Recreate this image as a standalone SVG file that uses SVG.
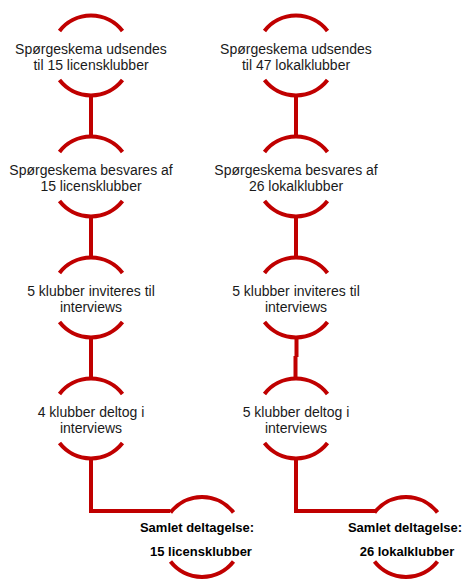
<svg xmlns="http://www.w3.org/2000/svg" width="468" height="580" viewBox="0 0 468 580">
<defs>
<style>
.arc{fill:none;stroke:#C00000;stroke-width:4}
.con{fill:none;stroke:#C00000;stroke-width:4}
.t{font-family:"Liberation Sans",Arial,sans-serif;font-size:14px;fill:#1a1a1a;text-anchor:middle}
.b{font-family:"Liberation Sans",Arial,sans-serif;font-size:13px;font-weight:bold;fill:#000;text-anchor:middle}
</style>
<g id="ring">
<path class="arc" d="M -31.5 -24.6 A 40 40 0 0 1 31.5 -24.6"/>
<path class="arc" d="M -31.5 24.6 A 40 40 0 0 0 31.5 24.6"/>
</g>
</defs>
<rect width="468" height="580" fill="#fff"/>
<g id="connectors">
<path class="con" d="M91 95.5 V136.5"/>
<path class="con" d="M91 216.5 V257.5"/>
<path class="con" d="M91 337.5 V378.5"/>
<path class="con" d="M91 458.5 V511 H170"/>
<path class="con" d="M296 95.5 V136.5"/>
<path class="con" d="M296 216.5 V257.5"/>
<path class="con" d="M296.5 337.5 V357 M295.5 356 V378.5"/>
<path class="con" d="M296 458.5 V511 H375"/>
</g>
<g id="n1"><use href="#ring" x="91" y="55.5"/><text class="t" x="91" y="54">Spørgeskema udsendes</text><text class="t" x="91" y="70">til 15 licensklubber</text></g>
<g id="n2"><use href="#ring" x="91" y="176.5"/><text class="t" x="91" y="175">Spørgeskema besvares af</text><text class="t" x="91" y="191">15 licensklubber</text></g>
<g id="n3"><use href="#ring" x="91" y="297.5"/><text class="t" x="91" y="296">5 klubber inviteres til</text><text class="t" x="91" y="312">interviews</text></g>
<g id="n4"><use href="#ring" x="91" y="418.5"/><text class="t" x="91" y="417">4 klubber deltog i</text><text class="t" x="91" y="433">interviews</text></g>
<g id="n5"><use href="#ring" x="202" y="537"/><text class="b" x="197" y="532">Samlet deltagelse:</text><text class="b" x="201" y="556">15 licensklubber</text></g>
<g id="m1"><use href="#ring" x="296" y="55.5"/><text class="t" x="296" y="54">Spørgeskema udsendes</text><text class="t" x="296" y="70">til 47 lokalklubber</text></g>
<g id="m2"><use href="#ring" x="296" y="176.5"/><text class="t" x="296" y="175">Spørgeskema besvares af</text><text class="t" x="296" y="191">26 lokalklubber</text></g>
<g id="m3"><use href="#ring" x="296" y="297.5"/><text class="t" x="296" y="296">5 klubber inviteres til</text><text class="t" x="296" y="312">interviews</text></g>
<g id="m4"><use href="#ring" x="296" y="418.5"/><text class="t" x="296" y="417">5 klubber deltog i</text><text class="t" x="296" y="433">interviews</text></g>
<g id="m5"><use href="#ring" x="406" y="537"/><text class="b" x="405" y="532">Samlet deltagelse:</text><text class="b" x="407" y="556">26 lokalklubber</text></g>
</svg>
